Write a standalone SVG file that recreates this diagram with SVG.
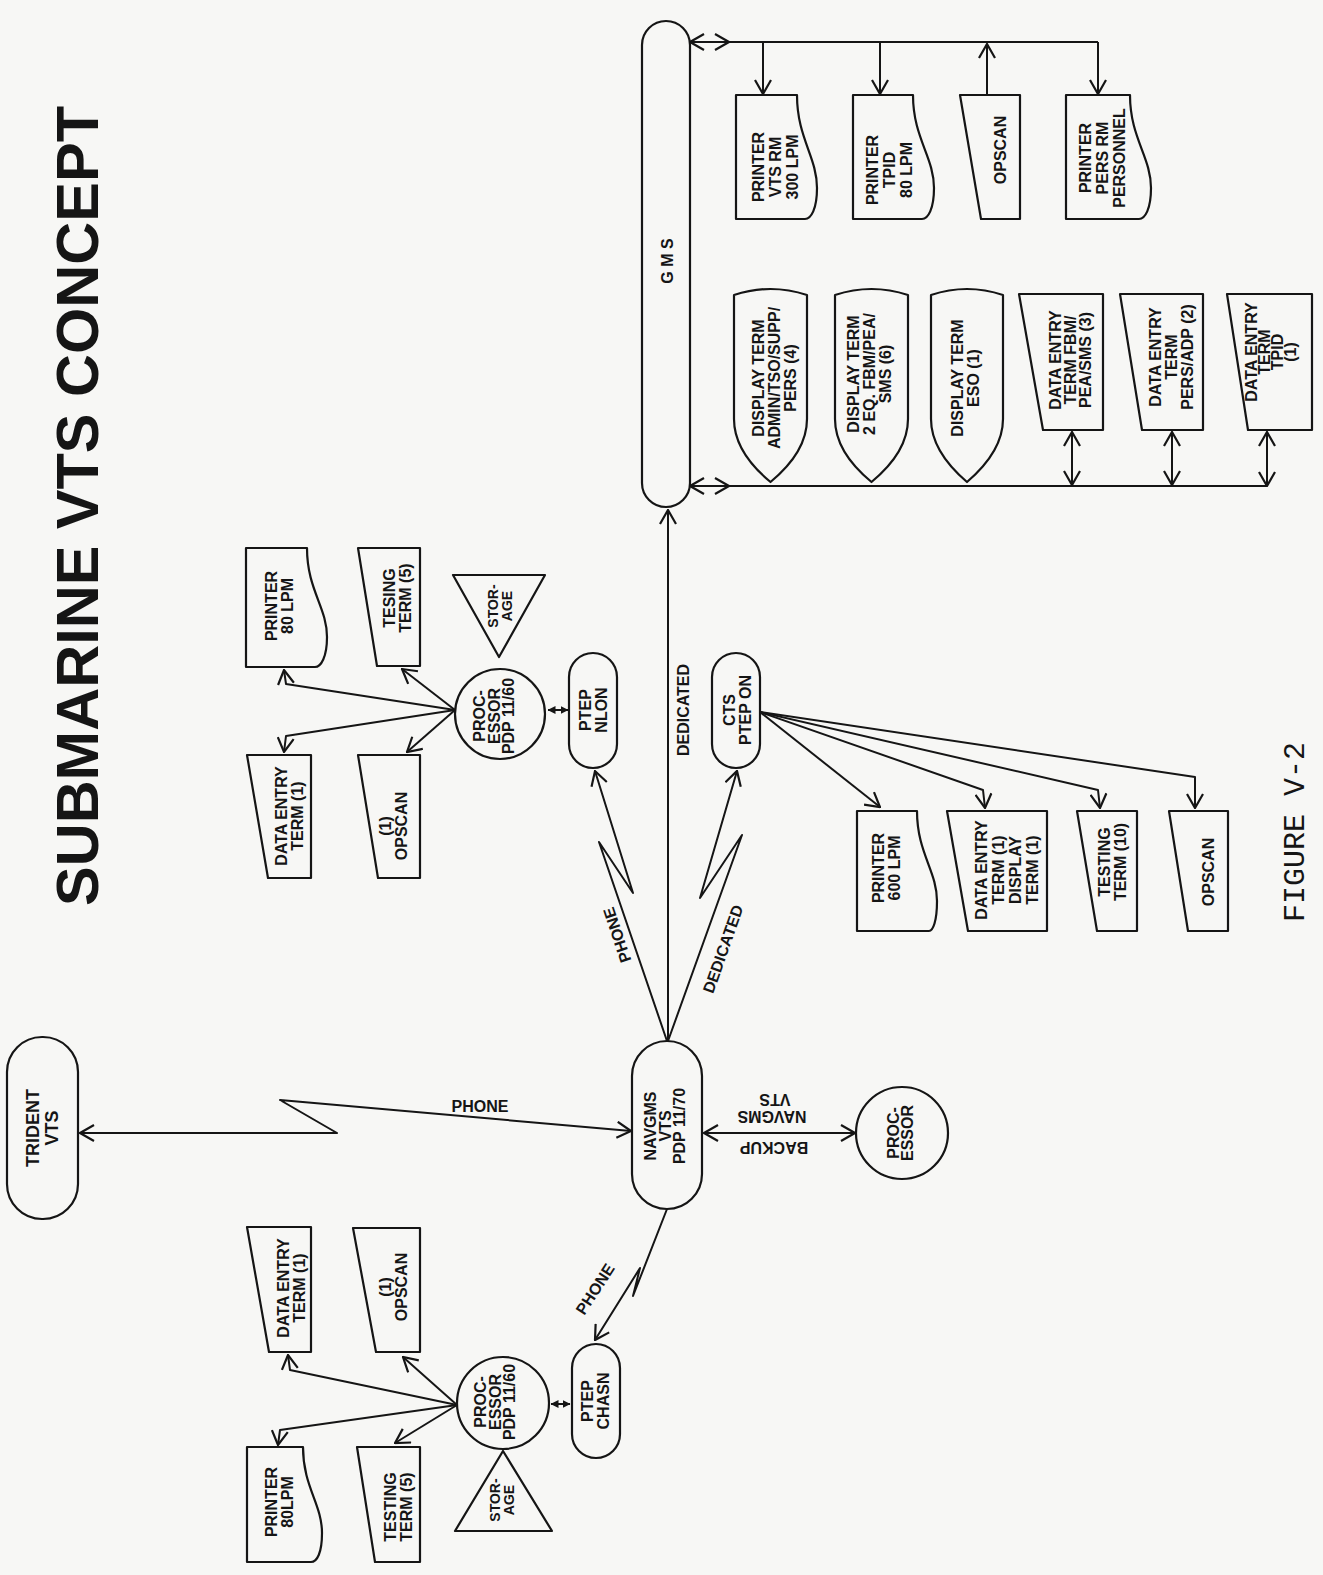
<svg xmlns="http://www.w3.org/2000/svg" width="1323" height="1575" viewBox="0 0 1323 1575">
<style>
.s{fill:none;stroke:#151515;stroke-width:2.2;stroke-linejoin:round}
.c{fill:none;stroke:#151515;stroke-width:2;stroke-linejoin:round}
.t{font-family:"Liberation Sans",Arial,sans-serif;font-weight:bold;font-size:16px;fill:#151515;text-anchor:middle}
.t14{font-size:14px}
.t18{font-size:18px}
.ttl{font-family:"Liberation Sans",Arial,sans-serif;font-weight:bold;font-size:59.5px;fill:#151515;text-anchor:middle}
.fig{font-family:"Liberation Mono","Courier New",monospace;font-size:30px;fill:#151515;text-anchor:middle}
</style>
<defs>
<marker id="ah" viewBox="-1 -9 16 18" refX="14" refY="0" markerWidth="16" markerHeight="18" markerUnits="userSpaceOnUse" orient="auto-start-reverse">
<path d="M0,-8 L14,0 L0,8" fill="none" stroke="#151515" stroke-width="2.2"/>
</marker>
<marker id="sm" viewBox="0 0 8 8" refX="7.5" refY="4" markerWidth="8" markerHeight="8" markerUnits="userSpaceOnUse" orient="auto-start-reverse">
<path d="M0,0 L8,4 L0,8 Z" fill="#151515"/>
</marker>
</defs>
<rect width="1323" height="1575" fill="#f7f7f5"/>

<text class="ttl" transform="translate(77,506) rotate(-90)" y="21.3">SUBMARINE VTS CONCEPT</text>
<text class="fig" transform="translate(1294,832) rotate(-90)" y="9.5">FIGURE V-2</text>

<!-- connectors -->
<g id="connectors">
<!-- lower-left processor -->
<path class="c" d="M457,1405 L290,1370 L288,1355" marker-end="url(#ah)"/>
<path class="c" d="M457,1405 L403,1357" marker-end="url(#ah)"/>
<path class="c" d="M457,1405 L280,1430 L278,1445" marker-end="url(#ah)"/>
<path class="c" d="M457,1405 L395,1443" marker-end="url(#ah)"/>
<path class="c" d="M551,1404 L570,1404" marker-start="url(#sm)" marker-end="url(#sm)"/>
<!-- upper processor -->
<path class="c" d="M455,710 L286,684 L284,670" marker-end="url(#ah)"/>
<path class="c" d="M455,710 L402,669" marker-end="url(#ah)"/>
<path class="c" d="M455,710 L286,736 L284,752" marker-end="url(#ah)"/>
<path class="c" d="M455,710 L407,752" marker-end="url(#ah)"/>
<path class="c" d="M548,710 L568,710" marker-start="url(#sm)" marker-end="url(#sm)"/>
<!-- CTS outputs -->
<path class="c" d="M760,712 L880,807" marker-end="url(#ah)"/>
<path class="c" d="M760,712 L983,790 L985,808" marker-end="url(#ah)"/>
<path class="c" d="M760,712 L1098,790 L1100,808" marker-end="url(#ah)"/>
<path class="c" d="M760,712 L1195,777 L1195,808" marker-end="url(#ah)"/>
<!-- NAVGMS links -->
<path class="c" d="M667,1041 L599,842 L633,893 L595,771" marker-end="url(#ah)"/>
<path class="c" d="M668,1041 L668,510" marker-end="url(#ah)"/>
<path class="c" d="M668,1041 L742,835 L700,898 L737,771" marker-end="url(#ah)"/>
<path class="c" d="M667,1209 L633,1296 L640,1268 L595,1340" marker-end="url(#ah)"/>
<path class="c" d="M631,1131 L280,1100 L337,1133 L80,1133" marker-start="url(#ah)" marker-end="url(#ah)"/>
<path class="c" d="M704,1133 L855,1133" marker-start="url(#ah)" marker-end="url(#ah)"/>
<!-- GMS buses -->
<path class="s" d="M690,42 H1098" marker-start="url(#ah)"/>
<path class="s" d="M715,34 L729,42 L715,50"/>
<path class="c" d="M763,42 V94" marker-end="url(#ah)"/>
<path class="c" d="M880,42 V94" marker-end="url(#ah)"/>
<path class="c" d="M987,95 V44" marker-end="url(#ah)"/>
<path class="c" d="M1098,42 V94" marker-end="url(#ah)"/>
<path class="s" d="M690,486 H1267" marker-start="url(#ah)"/>
<path class="s" d="M715,478 L729,486 L715,494"/>
<path class="c" d="M1072,432 V485" marker-start="url(#ah)" marker-end="url(#ah)"/>
<path class="c" d="M1172,432 V485" marker-start="url(#ah)" marker-end="url(#ah)"/>
<path class="c" d="M1267,432 V486" marker-start="url(#ah)" marker-end="url(#ah)"/>
<!-- connector labels -->
<text class="t" x="480" y="1112">PHONE</text>
<text class="t" transform="translate(617,935) rotate(-108.6)" y="5.7">PHONE</text>
<text class="t" transform="translate(723,949) rotate(-70.6)" y="5.7">DEDICATED</text>
<text class="t" transform="translate(683,710) rotate(-90)" y="5.7">DEDICATED</text>
<text class="t" transform="translate(595,1289) rotate(-57)" y="5.7">PHONE</text>
<text class="t" transform="translate(775,1100) rotate(180)" y="5.7">VTS</text>
<text class="t" transform="translate(772,1117) rotate(180)" y="5.7">NAVGMS</text>
<text class="t" transform="translate(774,1148) rotate(180)" y="5.7">BACKUP</text>
</g>

<!-- nodes -->
<g id="trident">
<rect class="s" x="7" y="1037" width="71" height="182" rx="35"/>
<text class="t t18" transform="translate(42,1128) rotate(-90)"><tspan x="0" y="-3.1">TRIDENT</tspan><tspan x="0" y="15.9">VTS</tspan></text>
</g>
<g id="navgms">
<rect class="s" x="632" y="1041" width="70" height="168" rx="35"/>
<text class="t" transform="translate(665,1126) rotate(-90)"><tspan x="0" y="-8.8">NAVGMS</tspan><tspan x="0" y="5.7">VTS</tspan><tspan x="0" y="20.2">PDP 11/70</tspan></text>
</g>
<g id="backup-proc">
<circle class="s" cx="902" cy="1133" r="46"/>
<text class="t" transform="translate(900,1133) rotate(-90)"><tspan x="0" y="-1.3">PROC-</tspan><tspan x="0" y="12.7">ESSOR</tspan></text>
</g>

<!-- lower left cluster -->
<g id="de-chasn">
<polygon class="s" points="247,1227 311,1227 311,1352 269,1352"/>
<text class="t" transform="translate(291,1288) rotate(-90)"><tspan x="0" y="-2.3">DATA ENTRY</tspan><tspan x="0" y="13.7">TERM (1)</tspan></text>
</g>
<g id="op-chasn">
<polygon class="s" points="353,1228 420,1228 420,1352 376,1352"/>
<text class="t" transform="translate(393,1287) rotate(-90)"><tspan x="0" y="-2.3">(1)</tspan><tspan x="0" y="13.7">OPSCAN</tspan></text>
</g>
<g id="proc-chasn">
<circle class="s" cx="503" cy="1403" r="46"/>
<text class="t" transform="translate(495,1402) rotate(-90)"><tspan x="0" y="-8.8">PROC-</tspan><tspan x="0" y="5.7">ESSOR</tspan><tspan x="0" y="20.2">PDP 11/60</tspan></text>
</g>
<g id="pr-chasn">
<path class="s" d="M247,1447 H303 C303,1487 322,1504 322,1533 C322,1553 317,1562 311,1562 H247 Z"/>
<text class="t" transform="translate(279,1502) rotate(-90)"><tspan x="0" y="-2.3">PRINTER</tspan><tspan x="0" y="13.7">80LPM</tspan></text>
</g>
<g id="ts-chasn">
<polygon class="s" points="357,1447 420,1447 420,1562 375,1562"/>
<text class="t" transform="translate(398,1507) rotate(-90)"><tspan x="0" y="-2.3">TESTING</tspan><tspan x="0" y="13.7">TERM (5)</tspan></text>
</g>
<g id="st-chasn">
<polygon class="s" points="455,1531 552,1531 503,1451"/>
<text class="t t14" transform="translate(502,1500) rotate(-90)"><tspan x="0" y="-2">STOR-</tspan><tspan x="0" y="12">AGE</tspan></text>
</g>
<g id="ptep-chasn">
<rect class="s" x="572" y="1344" width="48" height="114" rx="24"/>
<text class="t" transform="translate(595,1401) rotate(-90)"><tspan x="0" y="-2.3">PTEP</tspan><tspan x="0" y="13.7">CHASN</tspan></text>
</g>

<!-- upper cluster -->
<g id="pr-nlon">
<path class="s" d="M246,548 H307 C307,590 327,607 327,637 C327,657 321,667 315,667 H246 Z"/>
<text class="t" transform="translate(279,606) rotate(-90)"><tspan x="0" y="-2.3">PRINTER</tspan><tspan x="0" y="13.7">80 LPM</tspan></text>
</g>
<g id="ts-nlon">
<polygon class="s" points="358,548 420,548 420,666 377,666"/>
<text class="t" transform="translate(397,598) rotate(-90)"><tspan x="0" y="-2.3">TESING</tspan><tspan x="0" y="13.7">TERM (5)</tspan></text>
</g>
<g id="st-nlon">
<polygon class="s" points="453,575 545,575 499,657"/>
<text class="t t14" transform="translate(500,606) rotate(-90)"><tspan x="0" y="-2">STOR-</tspan><tspan x="0" y="12">AGE</tspan></text>
</g>
<g id="proc-nlon">
<circle class="s" cx="500" cy="714" r="45"/>
<text class="t" transform="translate(494,716) rotate(-90)"><tspan x="0" y="-8.8">PROC-</tspan><tspan x="0" y="5.7">ESSOR</tspan><tspan x="0" y="20.2">PDP 11/60</tspan></text>
</g>
<g id="de-nlon">
<polygon class="s" points="247,755 311,755 311,878 268,878"/>
<text class="t" transform="translate(289,816) rotate(-90)"><tspan x="0" y="-2.3">DATA ENTRY</tspan><tspan x="0" y="13.7">TERM (1)</tspan></text>
</g>
<g id="op-nlon">
<polygon class="s" points="358,755 420,755 420,878 378,878"/>
<text class="t" transform="translate(393,826) rotate(-90)"><tspan x="0" y="-2.3">(1)</tspan><tspan x="0" y="13.7">OPSCAN</tspan></text>
</g>
<g id="ptep-nlon">
<rect class="s" x="569" y="653" width="48" height="115" rx="24"/>
<text class="t" transform="translate(593,710) rotate(-90)"><tspan x="0" y="-2.3">PTEP</tspan><tspan x="0" y="13.7">NLON</tspan></text>
</g>
<g id="cts-ptep">
<rect class="s" x="712" y="653" width="48" height="115" rx="24"/>
<text class="t" transform="translate(737,710) rotate(-90)"><tspan x="0" y="-2.3">CTS</tspan><tspan x="0" y="13.7">PTEP ON</tspan></text>
</g>

<!-- CTS outputs -->
<g id="pr-cts">
<path class="s" d="M857,811 H917 C917,853 937,871 937,901 C937,921 933,931 929,931 H857 Z"/>
<text class="t" transform="translate(886,868) rotate(-90)"><tspan x="0" y="-2.3">PRINTER</tspan><tspan x="0" y="13.7">600 LPM</tspan></text>
</g>
<g id="de-cts">
<polygon class="s" points="947,811 1047,811 1047,931 968,931"/>
<text class="t" transform="translate(1007,870) rotate(-90)"><tspan x="0" y="-19.8">DATA ENTRY</tspan><tspan x="0" y="-2.8">TERM (1)</tspan><tspan x="0" y="14.2">DISPLAY</tspan><tspan x="0" y="31.2">TERM (1)</tspan></text>
</g>
<g id="ts-cts">
<polygon class="s" points="1077,811 1137,811 1137,931 1097,931"/>
<text class="t" transform="translate(1112,862) rotate(-90)"><tspan x="0" y="-2.3">TESTING</tspan><tspan x="0" y="13.7">TERM (10)</tspan></text>
</g>
<g id="op-cts">
<polygon class="s" points="1169,811 1228,811 1228,931 1188,931"/>
<text class="t" transform="translate(1208,872) rotate(-90)"><tspan x="0" y="5.7">OPSCAN</tspan></text>
</g>

<!-- GMS group -->
<g id="gms">
<rect class="s" x="642" y="21" width="48" height="486" rx="24"/>
<text class="t" transform="translate(667,261) rotate(-90)" y="5.7">G M S</text>
</g>
<g id="pr-vts">
<path class="s" d="M736,95 H797 C797,138 817,157 817,188 C817,209 811,219 805,219 H736 Z"/>
<text class="t" transform="translate(775,167) rotate(-90)"><tspan x="0" y="-11.3">PRINTER</tspan><tspan x="0" y="5.7">VTS RM</tspan><tspan x="0" y="22.7">300 LPM</tspan></text>
</g>
<g id="pr-tpid">
<path class="s" d="M853,95 H913 C913,138 934,157 934,188 C934,209 928,219 922,219 H853 Z"/>
<text class="t" transform="translate(889,170) rotate(-90)"><tspan x="0" y="-11.3">PRINTER</tspan><tspan x="0" y="5.7">TPID</tspan><tspan x="0" y="22.7">80 LPM</tspan></text>
</g>
<g id="op-gms">
<polygon class="s" points="960,95 1020,95 1020,219 981,219"/>
<text class="t" transform="translate(1000,150) rotate(-90)" y="5.7">OPSCAN</text>
</g>
<g id="pr-pers">
<path class="s" d="M1066,95 H1130 C1130,138 1151,157 1151,188 C1151,209 1145,219 1139,219 H1066 Z"/>
<text class="t" transform="translate(1102,158) rotate(-90)"><tspan x="0" y="-11.3">PRINTER</tspan><tspan x="0" y="5.7">PERS RM</tspan><tspan x="0" y="22.7">PERSONNEL</tspan></text>
</g>
<g id="dt-admin">
<path class="s" d="M734,419 V295 Q770.5,283 807,295 V419 C807,448 785,470 770.5,482 C756,470 734,448 734,419 Z"/>
<text class="t" transform="translate(774,378) rotate(-90)"><tspan x="0" y="-10.3">DISPLAY TERM</tspan><tspan x="0" y="5.7">ADMIN/TSO/SUPP/</tspan><tspan x="0" y="21.7">PERS (4)</tspan></text>
</g>
<g id="dt-2eq">
<path class="s" d="M835,419 V295 Q871.5,283 908,295 V419 C908,448 886,470 871.5,482 C857,470 835,448 835,419 Z"/>
<text class="t" transform="translate(869,374) rotate(-90)"><tspan x="0" y="-10.3">DISPLAY TERM</tspan><tspan x="0" y="5.7">2 EQ. FBM/PEA/</tspan><tspan x="0" y="21.7">SMS (6)</tspan></text>
</g>
<g id="dt-eso">
<path class="s" d="M931,419 V295 Q967,283 1003,295 V419 C1003,448 981,470 967,482 C953,470 931,448 931,419 Z"/>
<text class="t" transform="translate(965,378) rotate(-90)"><tspan x="0" y="-2.3">DISPLAY TERM</tspan><tspan x="0" y="13.7">ESO (1)</tspan></text>
</g>
<g id="de-fbm">
<polygon class="s" points="1019,294 1103,294 1103,430 1043,430"/>
<text class="t" transform="translate(1070,360) rotate(-90)"><tspan x="0" y="-9.3">DATA ENTRY</tspan><tspan x="0" y="5.7">TERM FBM/</tspan><tspan x="0" y="20.7">PEA/SMS (3)</tspan></text>
</g>
<g id="de-pers">
<polygon class="s" points="1120,294 1203,294 1203,430 1142,430"/>
<text class="t" transform="translate(1171,357) rotate(-90)"><tspan x="0" y="-10.3">DATA ENTRY</tspan><tspan x="0" y="5.7">TERM</tspan><tspan x="0" y="21.7">PERS/ADP (2)</tspan></text>
</g>
<g id="de-tpid">
<polygon class="s" points="1227,294 1312,294 1312,430 1248,430"/>
<text class="t" transform="translate(1271,352) rotate(-90)"><tspan x="0" y="-13.8">DATA ENTRY</tspan><tspan x="0" y="-0.8">TERM</tspan><tspan x="0" y="12.2">TPID</tspan><tspan x="0" y="25.2">(1)</tspan></text>
</g>
</svg>
